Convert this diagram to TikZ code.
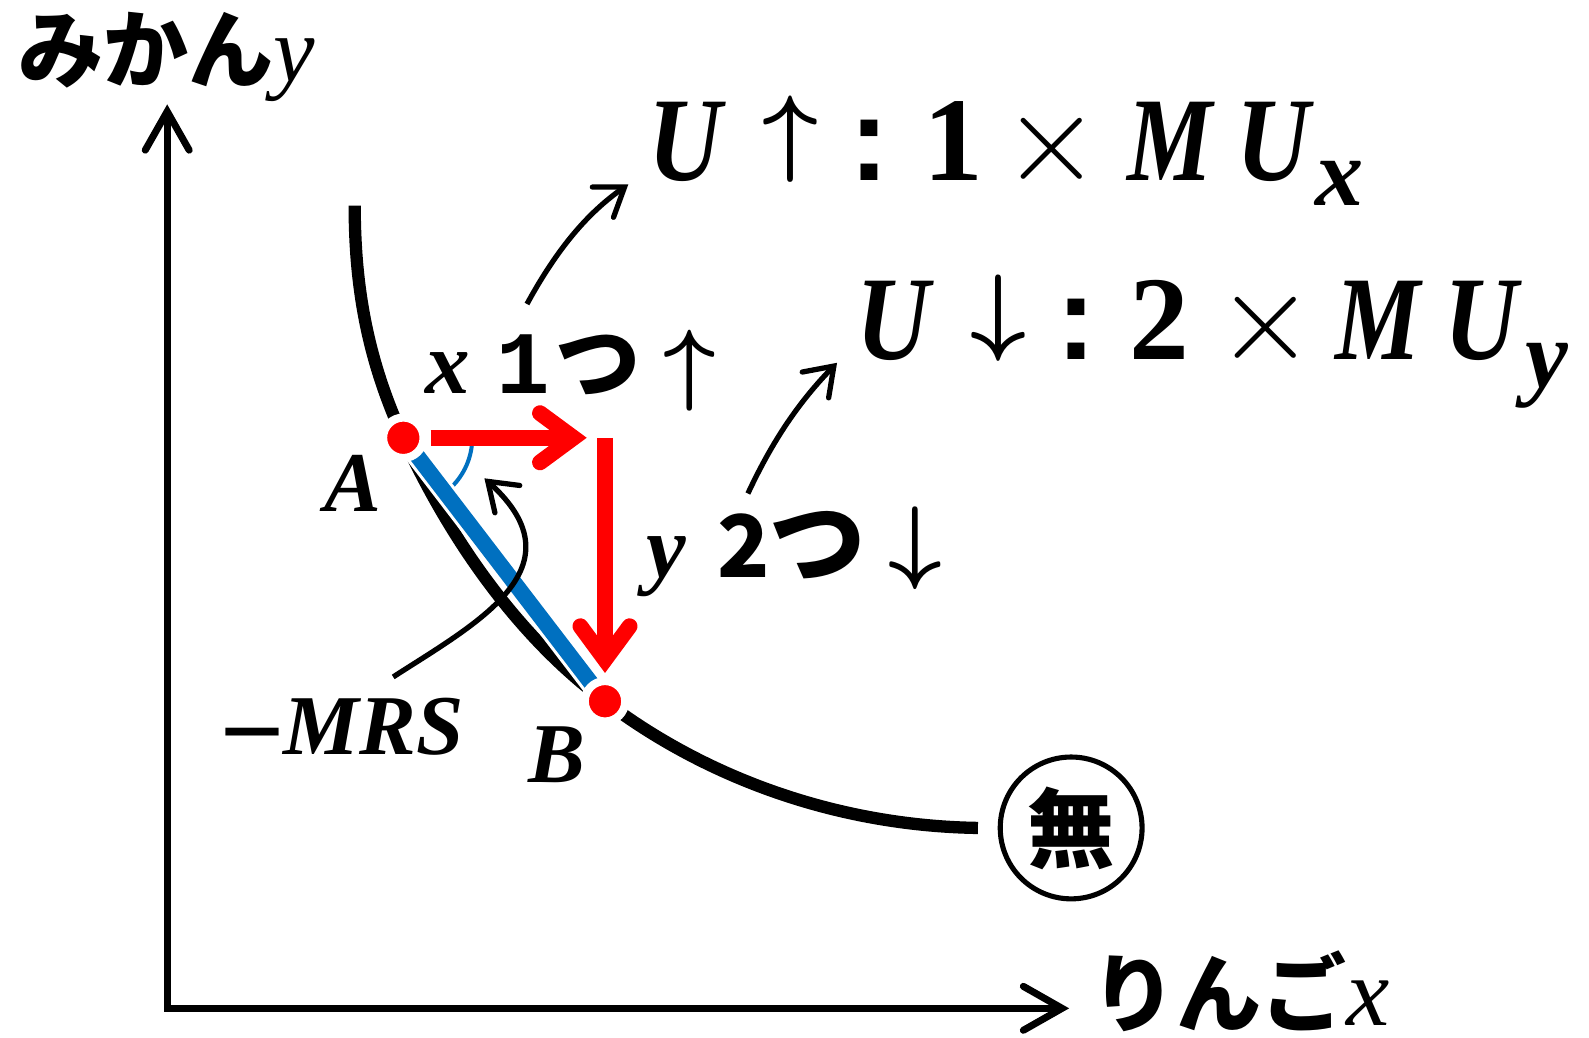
\RequirePackage{fix-cm}
\documentclass[tikz,border=0pt]{standalone}
\usepackage{fontspec}
\setmainfont{Liberation Serif}
\newfontfamily\jp{Noto Sans CJK JP}
\newfontfamily\mono{Liberation Mono}
\newfontfamily\sansf{Liberation Sans}
\usetikzlibrary{arrows.meta}
\newlength\pxu \setlength\pxu{0.5767pt}
\newcommand\gb[2]{\makebox[#1\pxu][l]{#2}}
\newcommand\fsz[1]{\fontsize{#1\pxu}{#1\pxu}\selectfont}
\definecolor{myred}{HTML}{FF0000}
\definecolor{myblue}{HTML}{0070C0}
\tikzset{
  axis/.style={line width=4pt, line join=miter, >={Straight Barb[length=22pt,width=25pt,line cap=round,line join=miter]}, <->},
  icurve/.style={line width=7pt},
  redarr/.style={draw=myred, line width=9pt, -{Straight Barb[length=19pt,width=28pt,line cap=round,line join=miter]}},
  thinarr/.style={line width=3pt, -{Straight Barb[length=15pt,width=21pt,line cap=round,line join=miter]}},
  bluel/.style={draw=myblue, line width=9pt},
  whitel/.style={draw=white, line width=12.5pt},
  angarc/.style={draw=myblue, line width=2.3pt},
  dot/.style={circle, fill=myred, draw=white, line width=4.6pt, minimum size=23pt, inner sep=0pt},
  lab/.style={inner sep=0pt, outer sep=0pt},
}
\begin{document}
\begin{tikzpicture}[x=0.02027cm,y=-0.02027cm]
\useasboundingbox (0,0) rectangle (1568,1024);
% axes
\coordinate (O) at (165,995);
\coordinate (Ytip) at (165,103);
\coordinate (Xtip) at (1055,995);
\draw[axis] (Ytip) -- (O) -- (Xtip);
\node[lab, anchor=base west] (ylab) at (18,80) {\fsz{84}{\jp\bfseries みかん}{\fsz{92}\itshape y}};
\node[lab, anchor=base west] (xlab) at (1077,1012) {\raisebox{0pt}[\height][0pt]{\fsz{84}{\jp\bfseries りんご}{\fsz{96}\itshape x}}};
% indifference curve
\coordinate (A) at (398,432);
\coordinate (B) at (597,692);
\coordinate (C) at (597,432);
\coordinate (Ctop) at (350,203);
\coordinate (Cend) at (965,817);
\draw[icurve] (Ctop) .. controls (350,290) and (365,360) .. (A) .. controls (450,545) and (520,635) .. (B) .. controls (700,770) and (830,815) .. (Cend);
% angle arc
\draw[angarc] ([shift={(6:68)}]A) arc[start angle=6, end angle=52, radius=68];
% blue line
\draw[whitel] (A) -- (B);
\draw[bluel] (A) -- (B);
% red arrows
\draw[redarr, shorten <=15.5pt, shorten >=10.4pt] (A) -- (C);
\draw[redarr, shorten >=16.1pt] (C) -- (B);
% dots
\node[dot] (Adot) at (A) {};
\node[dot] (Bdot) at (B) {};
% MRS arrow
\coordinate (m1) at (388,668);
\coordinate (m2) at (478,472);
\draw[thinarr] (m1) .. controls (470,615) and (575,560) .. (m2);
% labels
\node[lab, anchor=base west] (Alab) at (320,505) {\fsz{84}\bfseries\itshape A};
\node[lab, anchor=base west] (Blab) at (522,772) {\fsz{84}\bfseries\itshape B};
\node[lab, anchor=base west] (mrs) at (218,745) {\fsz{84}\gb{62}{\raisebox{-13\pxu}{\fsz{108}\sansf −}}\bfseries\itshape MRS};
\node[lab, anchor=base west] (x1) at (420,388) {\fsz{88}\gb{70}{\bfseries\itshape x}\gb{58}{\fsz{88}\mono\bfseries 1}\gb{107}{\fsz{84}\jp\bfseries つ}{\fsz{90}\boldmath$\uparrow$}};
\node[lab, anchor=base west] (y2) at (638,570) {\fsz{88}\gb{70}{\bfseries\itshape y}\gb{51}{\fsz{85}\jp\bfseries 2}\gb{118}{\fsz{95}\jp\bfseries つ}\raisebox{6\pxu}{\fsz{92}\boldmath$\downarrow$}};
% formulas
\node[lab, anchor=base west] (f1) at (640,178) {\fsz{118}\bfseries\gb{112}{\scalebox{0.85}[1]{\itshape U}}\gb{86}{\raisebox{17\pxu}{\fsz{96}\boldmath$\uparrow$}}\gb{73}{\sansf :}\gb{78}{1}\gb{123}{\fsz{125}$\times$}\gb{108}{\scalebox{0.8}[1]{\itshape M}}\gb{78}{\scalebox{0.85}[1]{\itshape U}}\raisebox{-25\pxu}{\fsz{95}\itshape x}};
\node[lab, anchor=base west] (f2) at (845,355) {\fsz{118}\bfseries\gb{113}{\scalebox{0.85}[1]{\itshape U}}\gb{84}{\raisebox{17\pxu}{\fsz{96}\boldmath$\downarrow$}}\gb{72}{\sansf :}\gb{86}{2}\gb{118}{\fsz{125}$\times$}\gb{107}{\scalebox{0.8}[1]{\itshape M}}\gb{80}{\scalebox{0.85}[1]{\itshape U}}\raisebox{-27\pxu}{\fsz{95}\itshape y}};
% pointer arrows
\coordinate (s1) at (520,300);
\coordinate (e1) at (620,182);
\draw[thinarr] (s1) .. controls (550,245) and (580,210) .. (e1);
\coordinate (s2) at (738,487);
\coordinate (e2) at (826,358);
\draw[thinarr] (s2) .. controls (760,440) and (785,400) .. (e2);
% circled kanji
\node[circle, draw, line width=2.9pt, minimum size=80.7pt, inner sep=0pt] (mu) at (1057,817) {\fsz{86}\jp\bfseries 無};
\end{tikzpicture}
\end{document}
